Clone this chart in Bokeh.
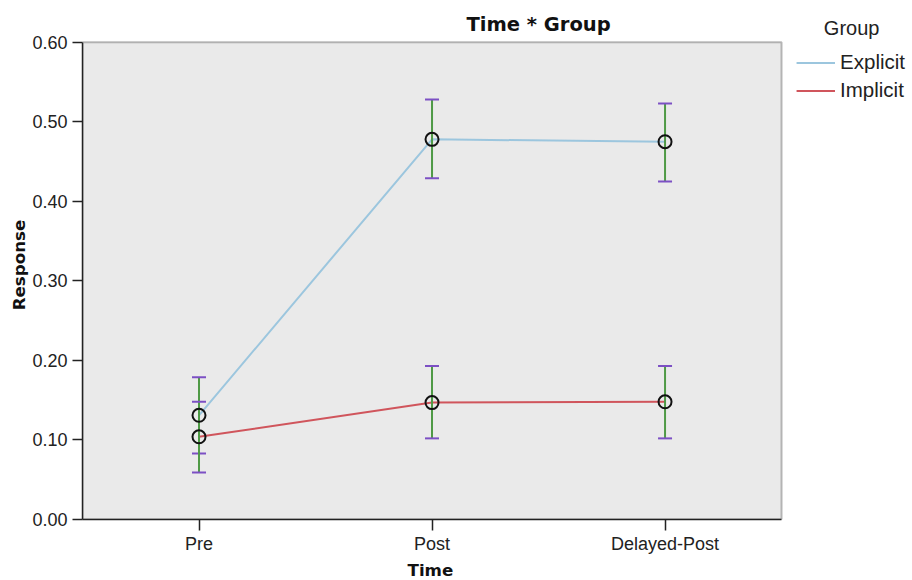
from bokeh.plotting import figure
from bokeh.models import (Range1d, ColumnDataSource, Whisker, TeeHead, Title,
                          Legend, LegendItem, Label, BoxAnnotation,
                          FixedTicker, NumeralTickFormatter)
from bokeh.embed import file_html
from bokeh.resources import INLINE

# ---- data ----
times = ["Pre", "Post", "Delayed-Post"]
groups = ["Explicit", "Implicit"]
explicit_mean = [0.131, 0.478, 0.475]
explicit_lower = [0.083, 0.429, 0.425]
explicit_upper = [0.179, 0.528, 0.523]
implicit_mean = [0.104, 0.147, 0.148]
implicit_lower = [0.059, 0.102, 0.102]
implicit_upper = [0.148, 0.193, 0.193]
y_ticks = [0.0, 0.1, 0.2, 0.3, 0.4, 0.5, 0.6]
y_min, y_max = 0.0, 0.6
chart_title = "Time * Group"
x_title = "Time"
y_title = "Response"
legend_title = "Group"

# category positions on the x scale (one slot per time point)
x_pos = list(range(len(times)))
x_left, x_right = x_pos[0] - 0.5, x_pos[-1] + 0.5

colors = {"Explicit": "#9cc6de", "Implicit": "#d0555c"}
BAR_GREEN = "#4f9a46"
CAP_PURPLE = "#7c50c4"
TICK_FONT = "Liberation Sans"
BOLD_FONT = "DejaVu Sans"

# The frame spans the whole upper/right area (title + legend live in it);
# the grey plot box covers the category slots and 0..0.6.
p = figure(width=912, height=580, x_range=Range1d(x_left, 3.062), y_range=Range1d(0, 0.64),
           output_backend="svg", toolbar_location=None, title=None,
           min_border_left=82, min_border_right=0, min_border_top=10, min_border_bottom=59)

p.background_fill_color = "white"
p.border_fill_color = "white"
p.outline_line_color = None
p.xgrid.grid_line_color = None
p.ygrid.grid_line_color = None

plot_box = BoxAnnotation(left=x_left, right=x_right, bottom=y_min, top=y_max,
                         fill_color="#eaeaea", fill_alpha=1.0,
                         line_color="#222222", line_width=2, level="underlay")
p.add_layout(plot_box)

for ax in (p.xaxis[0], p.yaxis[0]):
    ax.axis_line_color = "#222222"
    ax.axis_line_width = 1.5
    ax.major_tick_line_color = "#222222"
    ax.major_tick_line_width = 1.5
    ax.major_tick_in = 0
    ax.minor_tick_line_color = None
    ax.major_label_text_font = TICK_FONT
    ax.major_label_text_font_size = "18px"
    ax.major_label_text_color = "#222222"
    ax.axis_label_text_font = BOLD_FONT
    ax.axis_label_text_font_style = "bold"
    ax.axis_label_text_font_size = "16.7px"
    ax.axis_label_text_color = "#111111"

p.xaxis.axis_label = None
p.xaxis.bounds = (x_left, x_right)
p.xaxis.ticker = FixedTicker(ticks=x_pos)
p.xaxis.major_label_overrides = {i: t for i, t in zip(x_pos, times)}
p.xaxis.major_tick_out = 11
p.xaxis.major_label_standoff = 3

# x-axis title, centred under the plot box (placed below the axis)
p.add_layout(Title(text=x_title, align="left", offset=325, standoff=2,
                   text_font=BOLD_FONT, text_font_style="bold", text_font_size="16.7px",
                   text_color="#111111"), "below")

p.yaxis.axis_label = y_title
p.yaxis.bounds = (y_min, y_max)
p.yaxis.ticker = FixedTicker(ticks=y_ticks)
p.yaxis.formatter = NumeralTickFormatter(format="0.00")
p.yaxis.major_tick_out = 10
p.yaxis.major_label_standoff = 5
p.yaxis.axis_label_standoff = 0

series = {
    "Explicit": (explicit_mean, explicit_lower, explicit_upper),
    "Implicit": (implicit_mean, implicit_lower, implicit_upper),
}

line_renderers = {}
for g in groups:
    m, lo, up = series[g]
    src = ColumnDataSource(dict(x=x_pos, y=m))
    line_renderers[g] = p.line("x", "y", source=src, line_color=colors[g], line_width=2)

for g in groups:
    m, lo, up = series[g]
    src = ColumnDataSource(dict(x=x_pos, lower=lo, upper=up))
    w = Whisker(base="x", upper="upper", lower="lower", source=src, dimension="height",
                line_color=BAR_GREEN, line_width=2, level="glyph",
                upper_head=TeeHead(size=14, line_color=CAP_PURPLE, line_width=2),
                lower_head=TeeHead(size=14, line_color=CAP_PURPLE, line_width=2))
    p.add_layout(w)

for g in groups:
    m, lo, up = series[g]
    src = ColumnDataSource(dict(x=x_pos, y=m))
    c = p.scatter("x", "y", source=src, marker="circle", size=13, fill_color=None,
                  line_color="#111111", line_width=2)
    c.level = "overlay"

# chart title
p.add_layout(Label(x=384, y=495, x_units="screen", y_units="screen", text=chart_title,
                   text_align="left", text_baseline="alphabetic",
                   text_font=BOLD_FONT, text_font_style="bold", text_font_size="19.5px",
                   text_color="#111111"))

legend = Legend(items=[LegendItem(label=g, renderers=[line_renderers[g]]) for g in groups],
                title="\u00a0" * 5 + legend_title,
                title_text_font=TICK_FONT, title_text_font_size="20px",
                title_text_font_style="normal", title_text_color="#222222",
                title_standoff=10,
                location="top_right", padding=0, margin=7, spacing=4,
                glyph_width=39, glyph_height=23, label_height=23, label_standoff=5,
                label_text_font=TICK_FONT, label_text_font_size="20.5px",
                label_text_color="#222222",
                border_line_alpha=0, background_fill_alpha=0)
p.add_layout(legend)

open("out.html", "w").write(file_html(p, INLINE))
